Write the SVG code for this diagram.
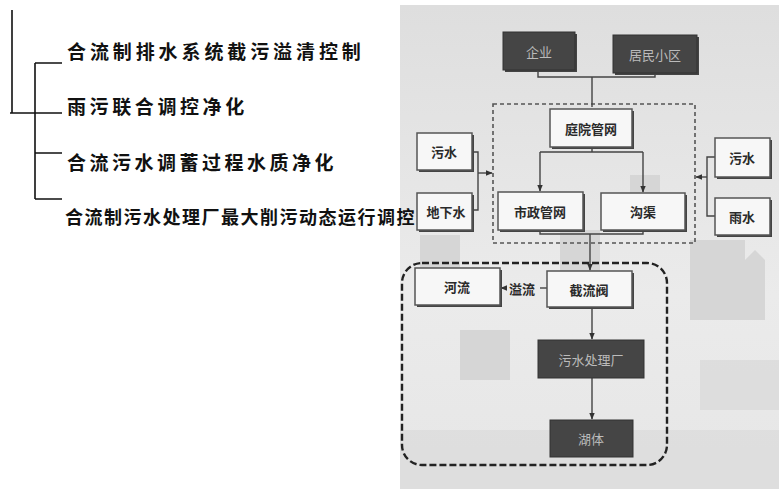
<svg xmlns="http://www.w3.org/2000/svg" width="779" height="489" viewBox="0 0 779 489">
<defs>
<marker id="ah" viewBox="0 0 10 10" refX="9" refY="5" markerWidth="5" markerHeight="5" orient="auto-start-reverse"><path d="M0,1 L10,5 L0,9 z" fill="#333"/></marker>
<linearGradient id="bg" x1="0" y1="0" x2="0" y2="1"><stop offset="0" stop-color="#dedede"/><stop offset="0.6" stop-color="#ebebeb"/><stop offset="1" stop-color="#e6e6e6"/></linearGradient>
</defs>
<style>
.tree{stroke:#111;stroke-width:1.6;fill:none}
.lt{font-family:"Noto Sans CJK SC","Noto Sans",sans-serif;font-weight:bold;fill:#111}
.wb{fill:#f7f7f7;stroke:#555;stroke-width:1.5}
.db{fill:#454545;stroke:#333;stroke-width:1}
.sh{fill:#444}
.nt{font-family:"Noto Sans CJK SC",sans-serif;font-weight:bold;font-size:13px;fill:#2a2a2a;text-anchor:middle;dominant-baseline:central}
.dt{font-family:"Noto Sans CJK SC",sans-serif;font-size:13px;fill:#bbb;text-anchor:middle;dominant-baseline:central}
.cn{stroke:#444;stroke-width:1.4;fill:none}
.bld{fill:#d6d6d6}
</style>
<rect width="779" height="489" fill="#ffffff"/>
<g id="background">
<rect x="400" y="5" width="379" height="484" fill="url(#bg)"/>
<rect x="420" y="235" width="40" height="60" class="bld"/>
<rect x="560" y="230" width="40" height="50" class="bld"/>
<rect x="690" y="240" width="55" height="80" class="bld"/>
<path d="M745,320 L745,260 L755,250 L765,260 L765,320 z" class="bld"/>
<rect x="460" y="330" width="50" height="50" class="bld"/>
<rect x="700" y="360" width="79" height="50" class="bld" opacity="0.6"/>
<rect x="400" y="430" width="379" height="59" class="bld" opacity="0.5"/>
<rect x="630" y="175" width="30" height="20" class="bld"/>
</g>
<g id="group-frames">
<rect x="493" y="104" width="202" height="139" fill="none" stroke="#555" stroke-width="1.6" stroke-dasharray="4,3"/>
<rect x="402" y="263" width="265" height="202" rx="20" fill="none" stroke="#222" stroke-width="2.4" stroke-dasharray="7,3"/>
</g>
<g id="connectors">
<path class="cn" d="M538,70 V77 H655 V73 M592,77 V107"/>
<path class="cn" d="M592,147 V152 M540,152 H643"/>
<path class="cn" d="M540,152 V191" marker-end="url(#ah)"/>
<path class="cn" d="M643,152 V192" marker-end="url(#ah)"/>
<path class="cn" d="M540,230 V234 H643 V230 M590,234 V243"/>
<path class="cn" d="M472,152 H478 V210 H472"/>
<path class="cn" d="M478,173 H492" marker-end="url(#ah)"/>
<path class="cn" d="M715,157 H707 V216 H715"/>
<path class="cn" d="M707,177 H696" marker-end="url(#ah)"/>
<path class="cn" d="M590,243 V270" marker-end="url(#ah)"/>
<path class="cn" d="M547,288 H540"/>
<path class="cn" d="M503,288 H501" marker-end="url(#ah)"/>
<text x="522" y="288" class="nt">溢流</text>
<path class="cn" d="M592,307 V339" marker-end="url(#ah)"/>
<path class="cn" d="M592,378 V419" marker-end="url(#ah)"/>
</g>
<g id="node-qiye"><rect x="505" y="34" width="72" height="38" class="sh"/><rect x="503" y="32" width="72" height="38" class="db"/><text x="539" y="51" class="dt">企业</text></g>
<g id="node-jumin"><rect x="615" y="37" width="84" height="38" class="sh"/><rect x="613" y="35" width="84" height="38" class="db"/><text x="655" y="54" class="dt">居民小区</text></g>
<g id="node-tingyuan"><rect x="552" y="111" width="82" height="38" class="sh"/><rect x="550" y="109" width="82" height="38" class="wb"/><text x="591" y="128" class="nt">庭院管网</text></g>
<g id="node-shizheng"><rect x="500" y="194" width="85" height="38" class="sh"/><rect x="498" y="192" width="85" height="38" class="wb"/><text x="540" y="211" class="nt">市政管网</text></g>
<g id="node-gouqu"><rect x="603" y="195" width="84" height="37" class="sh"/><rect x="601" y="193" width="84" height="37" class="wb"/><text x="643" y="211" class="nt">沟渠</text></g>
<g id="node-wushui-l"><rect x="419" y="135" width="55" height="37" class="sh"/><rect x="417" y="133" width="55" height="37" class="wb"/><text x="444" y="151" class="nt">污水</text></g>
<g id="node-dixiashui"><rect x="419" y="195" width="55" height="37" class="sh"/><rect x="417" y="193" width="55" height="37" class="wb"/><text x="446" y="211" class="nt">地下水</text></g>
<g id="node-wushui-r"><rect x="717" y="140" width="55" height="39" class="sh"/><rect x="715" y="138" width="55" height="39" class="wb"/><text x="742" y="157" class="nt">污水</text></g>
<g id="node-yushui"><rect x="717" y="200" width="55" height="37" class="sh"/><rect x="715" y="198" width="55" height="37" class="wb"/><text x="742" y="216" class="nt">雨水</text></g>
<g id="node-heliu"><rect x="417" y="270" width="85" height="37" class="sh"/><rect x="415" y="268" width="85" height="37" class="wb"/><text x="457" y="286" class="nt">河流</text></g>
<g id="node-jieliufa"><rect x="549" y="273" width="85" height="36" class="sh"/><rect x="547" y="271" width="85" height="36" class="wb"/><text x="589" y="289" class="nt">截流阀</text></g>
<g id="node-wushuichuli"><rect x="538" y="340" width="106" height="38" class="db"/><text x="591" y="359" class="dt">污水处理厂</text></g>
<g id="node-huti"><rect x="550" y="420" width="83" height="37" class="db"/><text x="591" y="438" class="dt">湖体</text></g>
<g id="tree">
<path class="tree" d="M12,10 V113 M10,113 H62 M35,63 V199 M35,63 H62 M35,153 H62 M35,199 H62"/>
<text class="lt" x="67" y="59" font-size="19" letter-spacing="3.9">合流制排水系统截污溢清控制</text>
<text class="lt" x="67" y="114" font-size="19" letter-spacing="3.6">雨污联合调控净化</text>
<text class="lt" x="67" y="170" font-size="19" letter-spacing="3.5">合流污水调蓄过程水质净化</text>
<text class="lt" x="65" y="224" font-size="18" letter-spacing="1.5">合流制污水处理厂最大削污动态运行调控</text>
</g>
</svg>
